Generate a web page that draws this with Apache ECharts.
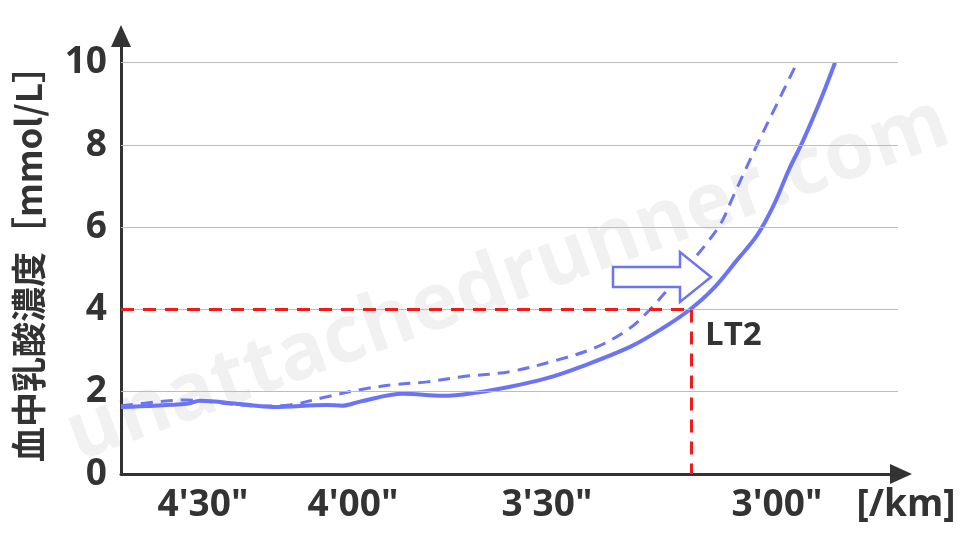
<!DOCTYPE html>
<html>
<head>
<meta charset="utf-8">
<script src="https://cdn.jsdelivr.net/npm/echarts@6/dist/echarts.min.js"></script>
<style>
  html, body { margin: 0; padding: 0; background: #fff; }
  #main { width: 960px; height: 540px; }
</style>
</head>
<body>
<div id="main"></div>
<script>
// x is a position along the pace axis (0 = left edge), y is lactate [mmol/L]
var solidX = [0, 33, 39.5, 59.5, 76, 103, 110.5, 119.5, 141, 161, 178, 194.5, 213, 229.5, 254.5, 271, 284.5, 296, 308, 318, 326, 334, 341, 349, 357];
var solidY = [1.63, 1.71, 1.78, 1.70, 1.63, 1.68, 1.66, 1.76, 1.95, 1.90, 1.98, 2.12, 2.33, 2.60, 3.09, 3.55, 4.0, 4.5, 5.2, 5.8, 6.5, 7.4, 8.1, 9.0, 10];

var dashX = [0, 19.5, 33, 49.5, 69.5, 84.5, 103, 119.5, 136, 153, 169.5, 194.5, 218, 238, 254.5, 264.5, 274.5, 284.5, 293, 300, 306, 318, 328, 338];
var dashY = [1.66, 1.76, 1.80, 1.73, 1.65, 1.68, 1.88, 2.05, 2.17, 2.24, 2.36, 2.49, 2.77, 3.09, 3.55, 4.0, 4.55, 5.12, 5.62, 6.1, 6.74, 8.0, 9.0, 10];

var xTickPos = [41, 116, 213, 328];
var xTickLabels = ["4'30\"", "4'00\"", "3'30\"", "3'00\""];
var yGridValues = [2, 4, 6, 8, 10];

var lt2X = 285;
var lt2Y = 4;
var xMax = 390;
var yMax = 10.65;
var gridEnd = 388.5;

var blue = '#6b74f4';
var red = '#f01c1c';
var ink = '#333333';

function pairs(xs, ys) {
  var out = [];
  for (var i = 0; i < xs.length; i++) out.push([xs[i], ys[i]]);
  return out;
}

var gridLines = yGridValues.map(function (v) {
  return [{ coord: [0, v] }, { coord: [gridEnd, v] }];
});

var myChart = echarts.init(document.getElementById('main'));

var option = {
  animation: false,
  backgroundColor: '#fff',
  grid: { left: 121, right: 59, top: 36, bottom: 66 },
  xAxis: {
    type: 'value',
    min: 0,
    max: xMax,
    interval: 1,
    axisLine: {
      show: true,
      symbol: ['none', 'triangle'],
      symbolSize: [20, 22],
      lineStyle: { color: ink, width: 3 }
    },
    axisTick: { show: false },
    splitLine: { show: false },
    axisLabel: {
      margin: 13,
      color: ink,
      fontFamily: 'Open Sans',
      fontWeight: 'bold',
      fontSize: 37,
      formatter: function (v) {
        var i = xTickPos.indexOf(v);
        return i >= 0 ? xTickLabels[i] : '';
      }
    }
  },
  yAxis: {
    type: 'value',
    min: 0,
    max: yMax,
    interval: 2,
    name: '血中乳酸濃度［mmol/L］',
    nameLocation: 'middle',
    nameRotate: 90,
    nameGap: 75,
    nameTextStyle: {
      color: ink,
      fontFamily: 'Noto Sans CJK JP',
      fontWeight: 'bold',
      fontSize: 35
    },
    axisLine: {
      show: true,
      symbol: ['none', 'triangle'],
      symbolSize: [20, 22],
      lineStyle: { color: ink, width: 3 }
    },
    axisTick: { show: false },
    splitLine: { show: false },
    axisLabel: {
      margin: 14,
      color: ink,
      fontFamily: 'Open Sans',
      fontWeight: 'bold',
      fontSize: 37,
      formatter: function (v) { return v > 10 ? '' : String(v); }
    }
  },
  graphic: [
    {
      type: 'text',
      z: 0,
      x: 508, y: 280,
      rotation: 0.35,
      silent: true,
      style: {
        text: 'unattachedrunner.com',
        fontFamily: 'Open Sans',
        fontWeight: 'bold',
        fontSize: 80,
        fill: 'rgba(0,0,0,0.055)',
        align: 'center',
        verticalAlign: 'middle'
      }
    },
    {
      type: 'polygon',
      z: 100,
      shape: {
        points: [[613, 267], [680, 267], [680, 252], [711, 277], [680, 302], [680, 287], [613, 287]]
      },
      style: { fill: '#fff', stroke: blue, lineWidth: 2.5 }
    },
    {
      type: 'text',
      z: 100,
      x: 705, y: 336,
      style: {
        text: 'LT2',
        fontFamily: 'Open Sans',
        fontWeight: 'bold',
        fontSize: 33,
        fill: ink,
        align: 'left',
        verticalAlign: 'middle'
      }
    },
    {
      type: 'text',
      z: 100,
      x: 906, y: 505,
      style: {
        text: '[/km]',
        fontFamily: 'Open Sans',
        fontWeight: 'bold',
        fontSize: 37,
        fill: ink,
        align: 'center',
        verticalAlign: 'middle'
      }
    }
  ],
  series: [
    {
      name: 'grid',
      type: 'line',
      data: [],
      silent: true,
      z: 1,
      markLine: {
        silent: true,
        symbol: ['none', 'none'],
        label: { show: false },
        lineStyle: { color: '#bdbdbd', width: 1.2, type: 'solid' },
        data: gridLines
      }
    },
    {
      name: 'dashed',
      type: 'line',
      data: pairs(dashX, dashY),
      smooth: 0.35,
      showSymbol: false,
      z: 3,
      lineStyle: { color: blue, width: 3, type: [12, 8] }
    },
    {
      name: 'solid',
      type: 'line',
      data: pairs(solidX, solidY),
      smooth: 0.35,
      showSymbol: false,
      z: 4,
      lineStyle: { color: blue, width: 4 },
      markLine: {
        silent: true,
        symbol: ['none', 'none'],
        label: { show: false },
        lineStyle: { color: red, width: 3, type: [13, 9] },
        data: [
          [{ coord: [0, lt2Y] }, { coord: [lt2X, lt2Y] }],
          [{ coord: [lt2X, lt2Y] }, { coord: [lt2X, 0] }]
        ]
      }
    }
  ]
};

myChart.setOption(option);
</script>
</body>
</html>
